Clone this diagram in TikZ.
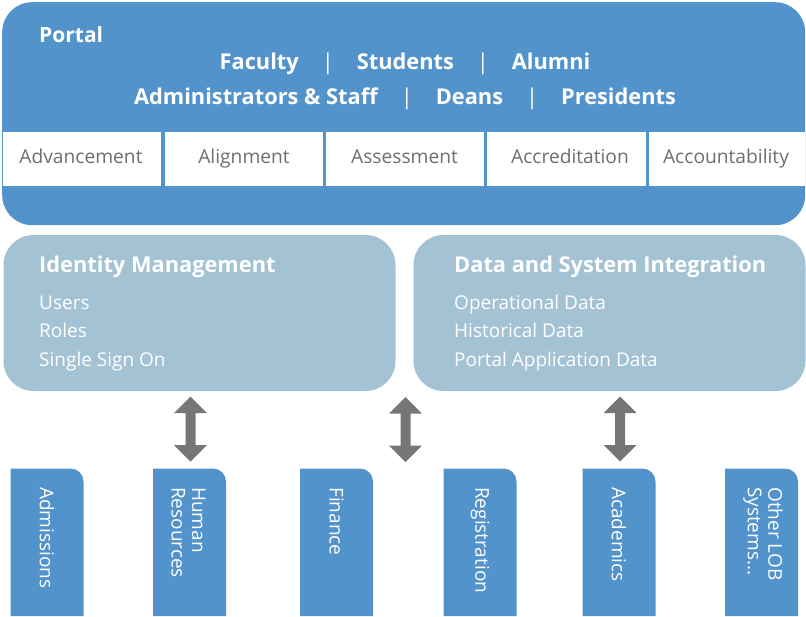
\documentclass[tikz,border=0pt]{standalone}
\usepackage{fontspec}
\setmainfont{Open Sans}
\definecolor{pblue}{HTML}{5393CC}
\definecolor{lblue}{HTML}{A3C3D4}
\definecolor{agray}{HTML}{767676}
\definecolor{tgray}{HTML}{6E6E6E}
\tikzset{
  hdr/.style={text=white, inner sep=0pt, font=\fontsize{21.8}{25}\selectfont\bfseries},
  celltext/.style={fill=white, text=tgray, minimum width=158pt, minimum height=54pt, inner sep=0pt, font=\fontsize{19.2}{23}\selectfont},
  listtext/.style={text=white, inner sep=0pt, font=\fontsize{19}{23}\selectfont},
  lbox/.style={fill=lblue, rounded corners=30pt, minimum width=392pt, minimum height=156pt, inner sep=0pt},
  tabtext/.style={text=white, inner sep=0pt, rotate=-90, anchor=west, align=left, font=\fontsize{19}{20.5}\selectfont},
  dblarrow/.pic={\fill[agray] (0,-32.5) -- (16.5,-16) -- (5,-16) -- (5,16) -- (16.5,16) -- (0,32.5) -- (-16.5,16) -- (-5,16) -- (-5,-16) -- (-16.5,-16) -- cycle;},
  tabbox/.pic={\fill[pblue] (0,147.5) -- (0,0) -- (60,0) .. controls (67.2,0) and (73,5.8) .. (73,13) -- (73,147.5) -- cycle;}
}
\newcommand{\vbar}{\hspace{29pt}\makebox[0pt]{\mdseries|}\hspace{29pt}}
\begin{document}
\begin{tikzpicture}[x=1pt,y=-1pt]
\useasboundingbox (0,0) rectangle (806,616);
% portal
\node[fill=pblue, rounded corners=30pt, minimum width=803pt, minimum height=223pt, anchor=north west, inner sep=0pt] (portal) at (2,2) {};
\node[hdr, anchor=base west, font=\fontsize{21}{25}\selectfont\bfseries] (ptitle) at (39,42.5) {Portal};
\node[hdr, anchor=base] (roles1) at (405,69) {Faculty\vbar Students\vbar Alumni};
\node[hdr, anchor=base] (roles2) at (405,104) {Administrators \& Staff\vbar Deans\vbar Presidents};
% cells
\node[celltext] (c1) at (82,159) {};
\node[celltext] (c2) at (244,159) {};
\node[celltext] (c3) at (405,159) {};
\node[celltext, minimum width=159pt] (c4) at (566.5,159) {};
\node[celltext, minimum width=156pt] (c5) at (727,159) {};
\node[celltext, fill=none, anchor=base] (t1) at (81,163) {Advancement};
\node[celltext, fill=none, anchor=base] (t2) at (244,163) {Alignment};
\node[celltext, fill=none, anchor=base] (t3) at (404.5,163) {Assessment};
\node[celltext, fill=none, anchor=base] (t4) at (570,163) {Accreditation};
\node[celltext, fill=none, anchor=base] (t5) at (726,163) {Accountability};
% middle boxes
\node[lbox] (idm) at (199.5,313) {};
\node[lbox] (dsi) at (609.5,313) {};
\node[hdr, anchor=base west] (idmt) at (39,272.5) {Identity Management};
\node[listtext, anchor=base west] (idm1) at (39,309) {Users};
\node[listtext, anchor=base west] (idm2) at (39,337.5) {Roles};
\node[listtext, anchor=base west] (idm3) at (39,366) {Single Sign On};
\node[hdr, anchor=base west] (dsit) at (454,272.5) {Data and System Integration};
\node[listtext, anchor=base west] (dsi1) at (454,309) {Operational Data};
\node[listtext, anchor=base west] (dsi2) at (454,337.5) {Historical Data};
\node[listtext, anchor=base west] (dsi3) at (454,366) {Portal Application Data};
% arrows
\pic at (190.5,429) {dblarrow};
\pic at (405.5,429.5) {dblarrow};
\pic at (620,429) {dblarrow};
% bottom systems
\pic at (10.5,468.5) {tabbox};
\pic at (153,468.5) {tabbox};
\pic at (300,468.5) {tabbox};
\pic at (443.5,468.5) {tabbox};
\pic at (582.5,468.5) {tabbox};
\pic at (725,468.5) {tabbox};
\node[tabtext] (s1) at (47,487) {Admissions};
\node[tabtext] (s2) at (188.5,487) {Human\\Resources};
\node[tabtext] (s3) at (336.5,487) {Finance};
\node[tabtext] (s4) at (480,487) {Registration};
\node[tabtext] (s5) at (619,487) {Academics};
\node[tabtext] (s6) at (763,487) {Other LOB\\Systems...};
\end{tikzpicture}
\end{document}
